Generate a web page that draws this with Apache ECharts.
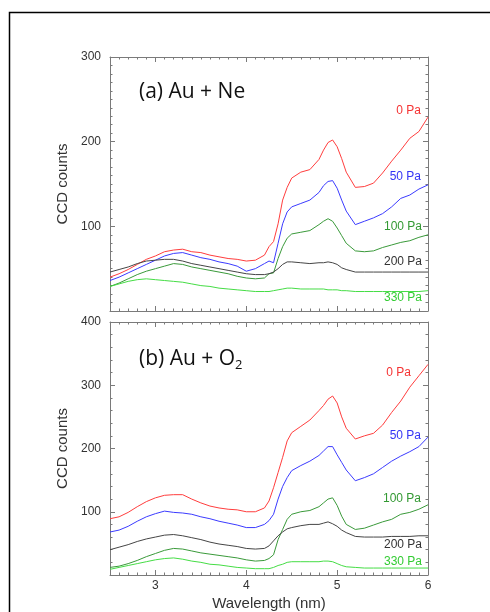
<!DOCTYPE html>
<html>
<head>
<meta charset="utf-8">
<script src="https://cdn.jsdelivr.net/npm/echarts@6/dist/echarts.min.js"></script>
<style>
html,body{margin:0;padding:0;background:#fff;}
#chart{width:490px;height:612px;}
</style>
</head>
<body>
<div id="chart"></div>
<script>
// Wavelength samples (nm)
const wavelength = [2.5,2.6,2.7,2.8,2.9,3.0,3.1,3.2,3.3,3.4,3.5,3.6,3.7,3.8,3.9,4.0,4.1,4.2,
  4.25,4.3,4.35,4.4,4.45,4.5,4.6,4.7,4.8,4.85,4.9,4.95,5.0,5.05,5.1,5.2,5.3,5.4,5.5,5.6,5.7,5.8,5.9,6.0];

// (a) Au + Ne
const ne_0Pa   = [40,44,49,55,61,65,70,72,73,70,69,66,64,62,61,59,60,66, 76,82,103,131,146,157,164,167,179,190,199,202,194,180,164,146,147,151,163,177,190,204,212,229];
const ne_50Pa  = [36,40,45,50,55,60,65,68,69,66,63,61,58,56,53,47,50,56, 59,57,80,103,117,123,127,131,140,148,153,154,145,131,118,102,106,110,115,123,133,137,144,149];
const ne_100Pa = [29,33,38,43,47,50,53,56,55,52,50,48,46,44,41,39,38,39, 44,45,62,76,86,91,93,95,102,106,109,106,98,89,80,71,70,71,75,78,81,83,87,90];
const ne_200Pa = [46,49,52,56,59,60,61,61,59,56,54,52,50,48,46,44,43,43, 44,46,50,55,58,58,57,56,57,57,58,57,55,51,49,46,46,46,46,46,46,46,46,46];
const ne_330Pa = [29,32,35,37,38,37,36,35,34,32,30,29,27,26,25,24,23,23, 23,24,25,26,27,27,26,26,26,26,25,25,25,24,24,23,23,23,23,23,23,23,23,24];

// (b) Au + O2
const o2_0Pa   = [89,92,99,108,116,122,126,127,127,120,114,109,106,104,103,100,100,106, 117,138,162,186,212,225,235,245,260,268,278,283,272,250,232,215,220,224,237,257,275,297,315,333];
const o2_50Pa  = [68,71,77,85,92,97,101,99,98,96,92,89,85,82,79,75,75,80, 86,96,120,140,154,165,173,180,189,196,203,203,190,178,166,149,154,160,170,180,188,195,203,218];
const o2_100Pa = [12,14,18,23,29,34,39,42,41,38,35,33,31,29,27,24,22,23, 26,32,56,72,88,96,100,102,108,114,120,122,110,93,80,72,74,79,84,88,96,99,104,111];
const o2_200Pa = [40,44,48,53,57,60,63,64,62,59,56,52,49,47,45,42,41,42, 46,54,62,68,73,75,78,80,80,82,84,81,77,71,67,61,60,60,60,61,61,61,62,62];
const o2_330Pa = [9,12,15,18,21,24,26,27,25,22,20,17,16,14,12,11,10,10, 10,12,15,17,20,21,21,21,21,22,22,21,18,15,13,12,11,11,11,11,11,11,11,11];

const seriesNames = ['0 Pa','50 Pa','100 Pa','200 Pa','330 Pa'];
const xTicks = [3,4,5,6];

const colors = ['#ff3d3d','#3b3bff','#3a9a3a','#454545','#45dd45'];
const labelColors = ['#f53333','#3535f5','#339933','#333333','#33cc33'];

const chart = echarts.init(document.getElementById('chart'), null, {renderer:'canvas'});

const axisCol = '#7a7a7a';
const FONT = 'Liberation Sans, Arial, sans-serif';
const TFONT = '"Open Sans", sans-serif';

function xAxes(gridIndex, showLabels) {
  const base = {type:'value', gridIndex, min:2.5, max:6, splitLine:{show:false}};
  return [
    Object.assign({}, base, {position:'bottom',
      axisLine:{show:true, lineStyle:{color:axisCol, width:1}},
      axisTick:{show:true, inside:true, length:5, customValues:xTicks, lineStyle:{color:axisCol}},
      axisLabel:{show:showLabels, customValues:xTicks, color:'#333', fontSize:12, fontFamily:FONT, margin:5},
      name: showLabels ? 'Wavelength (nm)' : '', nameLocation:'middle', nameGap:21,
      nameTextStyle:{color:'#333', fontSize:15, fontFamily:FONT}}),
    Object.assign({}, base, {position:'bottom', interval:0.1,
      axisLine:{show:false},
      axisTick:{show:true, inside:true, length:2.5, lineStyle:{color:axisCol}},
      axisLabel:{show:false}}),
    Object.assign({}, base, {position:'top',
      axisLine:{show:true, lineStyle:{color:axisCol, width:1}},
      axisTick:{show:true, inside:true, length:5, customValues:xTicks, lineStyle:{color:axisCol}},
      axisLabel:{show:false}}),
    Object.assign({}, base, {position:'top', interval:0.1,
      axisLine:{show:false},
      axisTick:{show:true, inside:true, length:2.5, lineStyle:{color:axisCol}},
      axisLabel:{show:false}})
  ];
}

function yAxes(gridIndex, max, minorSplit) {
  const base = {type:'value', gridIndex, min:0, max, interval:100, splitLine:{show:false}};
  return [
    Object.assign({}, base, {position:'left',
      axisLine:{show:true, lineStyle:{color:axisCol}},
      axisTick:{show:true, inside:true, length:5, lineStyle:{color:axisCol}},
      minorTick:{show:true, splitNumber:minorSplit, length:2.5, lineStyle:{color:axisCol}},
      axisLabel:{show:true, showMinLabel:false, color:'#333', fontSize:12, fontFamily:FONT, margin:9},
      name:'CCD counts', nameLocation:'middle', nameGap:40,
      nameTextStyle:{color:'#333', fontSize:15, fontFamily:FONT}}),
    Object.assign({}, base, {position:'right',
      axisLine:{show:true, lineStyle:{color:axisCol}},
      axisTick:{show:true, inside:true, length:5, lineStyle:{color:axisCol}},
      minorTick:{show:true, splitNumber:minorSplit, length:2.5, lineStyle:{color:axisCol}},
      axisLabel:{show:false}})
  ];
}

function mk(name, arr, idx, xi, yi) {
  return {name, type:'line', xAxisIndex:xi, yAxisIndex:yi,
    data: wavelength.map((w,i)=>[w, arr[i]]),
    showSymbol:false, symbol:'none', smooth:false,
    lineStyle:{color:colors[idx], width:1}, itemStyle:{color:colors[idx]},
    silent:true, animation:false};
}

const neSets = [ne_0Pa, ne_50Pa, ne_100Pa, ne_200Pa, ne_330Pa];
const o2Sets = [o2_0Pa, o2_50Pa, o2_100Pa, o2_200Pa, o2_330Pa];
const series = [];
neSets.forEach((a,i)=>series.push(mk('Ne '+seriesNames[i], a, i, 0, 0)));
o2Sets.forEach((a,i)=>series.push(mk('O2 '+seriesNames[i], a, i, 4, 2)));

// label positions (pixels)
const labelPosA = [[421,111],[421,177],[422,227],[422,262],[422,298]];
const labelPosB = [[411,373],[421,436],[421,499],[422,545],[422,562]];
const graphics = [
  {type:'rect', shape:{x:9.5, y:12.5, width:490, height:620}, style:{fill:'none', stroke:'#000', lineWidth:1.5}, silent:true}
];
seriesNames.forEach((n,i)=>{
  graphics.push({type:'text', x:labelPosA[i][0], y:labelPosA[i][1],
    style:{text:n, fill:labelColors[i], font:'12px '+FONT, textAlign:'right', textVerticalAlign:'middle'}});
  graphics.push({type:'text', x:labelPosB[i][0], y:labelPosB[i][1],
    style:{text:n, fill:labelColors[i], font:'12px '+FONT, textAlign:'right', textVerticalAlign:'middle'}});
});

const option = {
  animation:false,
  backgroundColor:'#fff',
  title:[
    {text:'(a) Au + Ne', left:134, top:77, textStyle:{fontFamily:TFONT, fontWeight:'normal', fontSize:21, color:'#111'}},
    {text:'(b) Au + O{sub|2}', left:134, top:342, textStyle:{fontFamily:TFONT, fontWeight:'normal', fontSize:21, color:'#111',
      rich:{sub:{fontFamily:TFONT, fontSize:13, color:'#111', verticalAlign:'bottom', padding:[12,0,0,0]}}}}
  ],
  grid:[
    {left:110, top:57, width:318, height:254},
    {left:110, top:322, width:318, height:254}
  ],
  xAxis:[...xAxes(0,false), ...xAxes(1,true)],
  yAxis:[...yAxes(0,300,10), ...yAxes(1,400,5)],
  series,
  graphic:graphics
};
chart.setOption(option);
</script>
</body>
</html>
